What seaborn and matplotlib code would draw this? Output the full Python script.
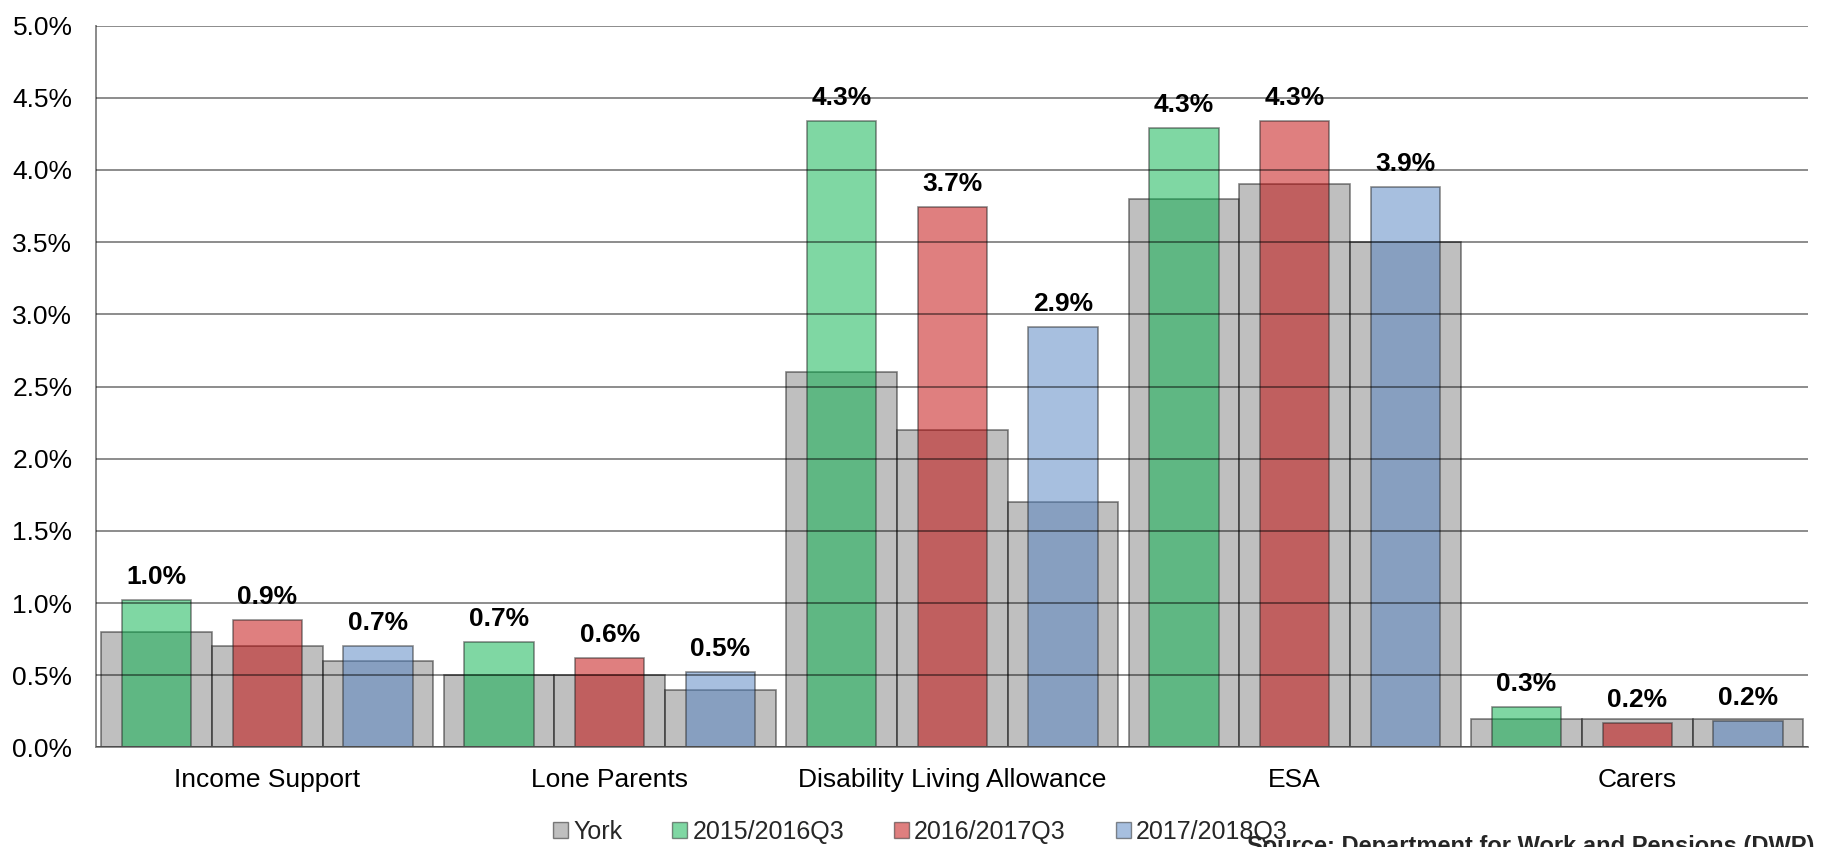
import matplotlib
matplotlib.use('Agg')
import matplotlib.pyplot as plt
import numpy as np
import pandas as pd
import seaborn as sns
from matplotlib.patches import Patch
from matplotlib.ticker import FuncFormatter, MultipleLocator

sns.set_theme(style='white')
plt.rcParams['font.family'] = ['Liberation Sans', 'DejaVu Sans']

CATEGORIES = ['Income Support', 'Lone Parents', 'Disability Living Allowance', 'ESA', 'Carers']
PERIODS = ['2015/2016Q3', '2016/2017Q3', '2017/2018Q3']

# York rates (grey background bars), one per period, percent
YORK = {
    '2015/2016Q3': [0.80, 0.50, 2.60, 3.80, 0.20],
    '2016/2017Q3': [0.70, 0.50, 2.20, 3.90, 0.20],
    '2017/2018Q3': [0.60, 0.40, 1.70, 3.50, 0.20],
}
# comparison rates (coloured bars), percent
RATES = {
    '2015/2016Q3': [1.02, 0.73, 4.34, 4.29, 0.28],
    '2016/2017Q3': [0.88, 0.62, 3.74, 4.34, 0.17],
    '2017/2018Q3': [0.70, 0.52, 2.91, 3.88, 0.18],
}

PERIOD_COLORS = {'2015/2016Q3': '#00b149', '2016/2017Q3': '#c10101', '2017/2018Q3': '#5181c1'}
GREY = '#808080'
GRID = '#000000'

rows = []
for p in PERIODS:
    for c, y, r in zip(CATEGORIES, YORK[p], RATES[p]):
        rows.append({'category': c, 'period': p, 'york': y, 'rate': r})
df = pd.DataFrame(rows)

fig = plt.figure(figsize=(18.23, 8.47), dpi=100)
ax = fig.add_axes([0.0527, 0.1175, 0.9393, 0.8523])

ax.yaxis.grid(True, color=GRID, alpha=0.45, linewidth=1.4)
ax.set_axisbelow(False)

sns.barplot(data=df, x='category', y='york', hue='period', order=CATEGORIES,
            hue_order=PERIODS, palette=[GREY] * 3, width=0.97, errorbar=None,
            saturation=1, alpha=0.5, edgecolor='#101010', linewidth=1.2,
            legend=False, ax=ax)
n_grey = len(ax.containers)

sns.barplot(data=df, x='category', y='rate', hue='period', order=CATEGORIES,
            hue_order=PERIODS, palette=PERIOD_COLORS, width=0.97, gap=0.375,
            errorbar=None, saturation=1, alpha=0.5, edgecolor='#202020',
            linewidth=1.2, legend=False, ax=ax)

for cont in ax.containers[n_grey:]:
    ax.bar_label(cont, fmt=lambda v: f'{v:.1f}%', padding=8,
                 fontsize=19, fontweight='bold', color='black', zorder=4)

ax.set_xlim(-0.5, 4.5)
ax.set_ylim(0, 5.0)
ax.yaxis.set_major_locator(MultipleLocator(0.5))
ax.yaxis.set_major_formatter(FuncFormatter(lambda v, _: f'{v:.1f}%'))
ax.set_xlabel('')
ax.set_ylabel('')

ax.set_xticks(range(len(CATEGORIES)))
ax.set_xticklabels(CATEGORIES)
ax.set_xticks(np.arange(-0.5, len(CATEGORIES), 1), minor=True)
ax.tick_params(axis='x', which='major', length=0, pad=15, labelsize=19, labelcolor='black')
ax.tick_params(axis='x', which='minor', length=6, width=1.4, color='#8a8a8a', direction='out')
ax.tick_params(axis='y', which='major', length=6, width=1.4, color='#8a8a8a',
               direction='out', labelsize=19, labelcolor='black', pad=11)

for s in ['top', 'right']:
    ax.spines[s].set_visible(False)
for s in ['left', 'bottom']:
    ax.spines[s].set_color('#8a8a8a')
    ax.spines[s].set_linewidth(1.4)

handles = [Patch(facecolor=GREY, alpha=0.5, edgecolor='#101010', label='York')]
handles += [Patch(facecolor=PERIOD_COLORS[p], alpha=0.5, edgecolor='#202020', label=p)
            for p in PERIODS]
fig.legend(handles=handles, loc='center', bbox_to_anchor=(0.505, 0.0175), ncol=4,
           frameon=False, fontsize=18, handlelength=0.6, handleheight=0.6,
           handletextpad=0.2, columnspacing=2.0, borderpad=0)

fig.text(0.684, 0.0142, 'Source: Department for Work and Pensions (DWP)',
         fontsize=17, fontweight='bold', va='top', ha='left')

fig.savefig('out.png', dpi=100)
